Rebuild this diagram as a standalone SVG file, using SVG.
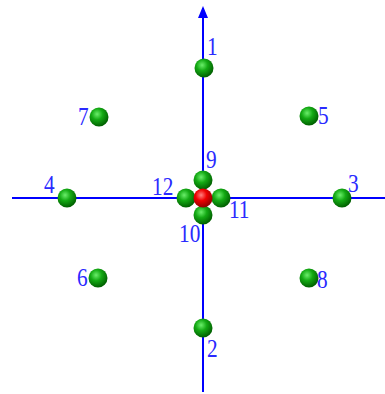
<svg xmlns="http://www.w3.org/2000/svg" width="385" height="394" viewBox="0 0 385 394">
<style>
.ax{stroke:#0000ff;stroke-width:2;fill:none}
.lb{font-family:"Liberation Serif","Times New Roman",serif;font-size:26px;fill:#2a2aff}
</style>
<defs>
<radialGradient id="g" cx="0.4" cy="0.35" r="0.65">
<stop offset="0" stop-color="#6aee6a"/>
<stop offset="0.45" stop-color="#14aa14"/>
<stop offset="1" stop-color="#006000"/>
</radialGradient>
<radialGradient id="r" cx="0.4" cy="0.35" r="0.65">
<stop offset="0" stop-color="#ff8080"/>
<stop offset="0.45" stop-color="#ee0000"/>
<stop offset="1" stop-color="#900000"/>
</radialGradient>
</defs>
<rect width="385" height="394" fill="#ffffff"/>
<g id="connectors">
<line class="ax" x1="12" y1="198" x2="385" y2="198"/>
<line class="ax" x1="203" y1="392" x2="203" y2="8"/>
<path d="M203,6 L208,18 L198,18 Z" fill="#0000ff"/>
</g>
<g id="n1"><circle cx="204" cy="68" r="9.5" fill="url(#g)"/><text class="lb" transform="translate(207,55) scale(0.82,1)">1</text></g>
<g id="n2"><circle cx="203" cy="328" r="9.5" fill="url(#g)"/><text class="lb" transform="translate(207,357) scale(0.82,1)">2</text></g>
<g id="n3"><circle cx="342" cy="198" r="9.5" fill="url(#g)"/><text class="lb" transform="translate(348,192) scale(0.82,1)">3</text></g>
<g id="n4"><circle cx="67" cy="198" r="9.5" fill="url(#g)"/><text class="lb" transform="translate(44,193) scale(0.82,1)">4</text></g>
<g id="n5"><circle cx="309" cy="116" r="9.5" fill="url(#g)"/><text class="lb" transform="translate(318,124) scale(0.82,1)">5</text></g>
<g id="n6"><circle cx="98" cy="278" r="9.5" fill="url(#g)"/><text class="lb" transform="translate(77,286) scale(0.82,1)">6</text></g>
<g id="n7"><circle cx="99" cy="117" r="9.5" fill="url(#g)"/><text class="lb" transform="translate(78,125) scale(0.82,1)">7</text></g>
<g id="n8"><circle cx="309" cy="278" r="9.5" fill="url(#g)"/><text class="lb" transform="translate(317,288) scale(0.82,1)">8</text></g>
<g id="n9"><circle cx="203" cy="180" r="9.5" fill="url(#g)"/><text class="lb" transform="translate(206,168) scale(0.82,1)">9</text></g>
<g id="n10"><circle cx="203" cy="215" r="9.5" fill="url(#g)"/><text class="lb" transform="translate(179,242) scale(0.82,1)">10</text></g>
<g id="n11"><circle cx="221" cy="198" r="9.5" fill="url(#g)"/><text class="lb" transform="translate(229,218) scale(0.82,1)">11</text></g>
<g id="n12"><circle cx="186" cy="198" r="9.5" fill="url(#g)"/><text class="lb" transform="translate(152,195) scale(0.82,1)">12</text></g>
<g id="center"><circle cx="203" cy="198" r="9.5" fill="url(#r)"/></g>
</svg>
